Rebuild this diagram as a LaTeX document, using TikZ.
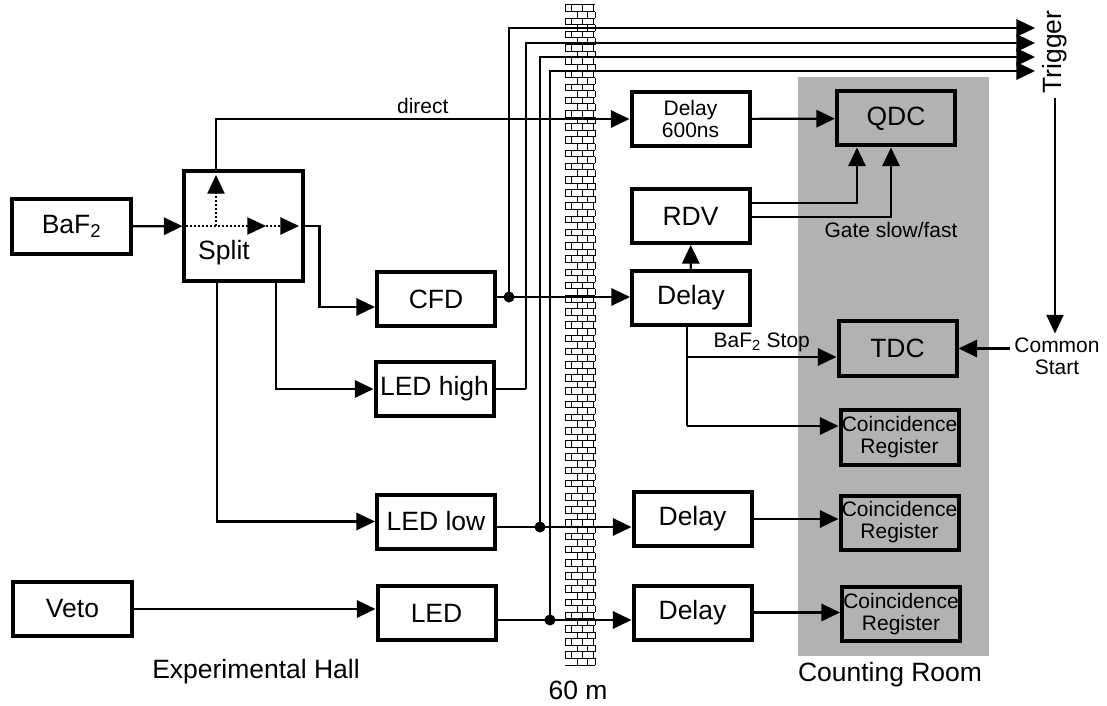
\documentclass[tikz,border=0pt]{standalone}
\usepackage{fontspec}
\setmainfont{Liberation Sans}
\usetikzlibrary{arrows.meta,calc}
\newcommand{\fntbig}{\fontsize{22.6}{26}\selectfont}
\newcommand{\fntsmall}{\fontsize{17.9}{18.8}\selectfont}

\begin{document}
\begin{tikzpicture}[x=0.03cm,y=-0.03cm,
  box/.style={rectangle,draw,line width=0.12cm,minimum width=3.54cm,minimum height=1.62cm,inner sep=0pt,font=\fntbig,align=center},
  sbox/.style={box,font=\fntsmall},
  arr/.style={-{Triangle[length=0.56cm,width=0.52cm]},line width=0.065cm},
  wire/.style={line width=0.065cm},
  thinarr/.style={-{Triangle[length=0.56cm,width=0.52cm]},line width=0.04cm},
  dotarr/.style={-{Triangle[length=0.56cm,width=0.52cm]},line width=0.04cm,dash pattern={on 0.06cm off 0.06cm}},
  brick/.style={line width=0.03cm},
  lbl/.style={font=\fntbig},
  slbl/.style={font=\fntsmall,align=center}]
  \useasboundingbox (0,0) rectangle (1107,706);
  % counting room and wall
  \fill[black!30] (798,77) rectangle (989,656);
  \fill[white] (565,5) rectangle (595,665);
  \foreach \r in {0,...,100}
    \draw[brick] (565,{5+6.6*\r}) -- (595,{5+6.6*\r});
  \foreach \r in {0,2,...,98}
    \foreach \xj in {565,571,582,593}
      \draw[brick] (\xj,{5+6.6*\r}) -- (\xj,{11.6+6.6*\r});
  \foreach \r in {1,3,...,99}
    \foreach \xj in {577,587,595}
      \draw[brick] (\xj,{5+6.6*\r}) -- (\xj,{11.6+6.6*\r});
  % modules
  \node[box](baf) at (71.5,226.5){BaF\textsubscript{2}};
  \node[box,minimum height=3.3cm](split) at (243.5,226){};
  \node[lbl](splittxt) at (224,253){Split};
  \node[box](cfd) at (436,299){CFD};
  \node[box](ledh) at (434.5,389){LED high};
  \node[box](ledl) at (436,521.5){LED low};
  \node[box](led) at (436.5,613){LED};
  \node[box](veto) at (72.5,609){Veto};
  \node[sbox](dly600) at (690.5,119){Delay\\600ns};
  \node[box](rdv) at (690.5,216){RDV};
  \node[box](dlym) at (691,298){Delay};
  \node[box](dlyl) at (692.5,519){Delay};
  \node[box](dlyv) at (692.5,612.5){Delay};
  \node[box](qdc) at (896,118.5){QDC};
  \node[box](tdc) at (897.5,348.5){TDC};
  \node[sbox](coi1) at (899.5,437.5){Coincidence\\Register};
  \node[sbox](coi2) at (899.5,522.5){Coincidence\\Register};
  \node[sbox](coi3) at (901,614){Coincidence\\Register};
  \node[lbl,rotate=90](trig) at (1055,52){Trigger};
  \node[slbl](common) at (1057,356){Common\\Start};
  \node[lbl](hall) at (256,672){Experimental Hall};
  \node[lbl](dist) at (578,690){60 m};
  \node[lbl](room) at (890,675){Counting Room};
  % junctions and trigger ends
  \coordinate(spup) at (216,175);
  \coordinate(spmid) at (266,226);
  \coordinate(spend) at (299,226);
  \coordinate(kh) at (526,389);
  \coordinate(jc) at (509,297);
  \coordinate(jl) at (540,527);
  \coordinate(jv) at (550,620);
  \coordinate(tr1) at (1035,28);
  \coordinate(tr2) at (1035,43);
  \coordinate(tr3) at (1035,57);
  \coordinate(tr4) at (1035,71);
  \coordinate(bstop) at (687,357);
  \coordinate(bcoi) at (687,426);
  % experimental hall
  \draw[arr](baf)--(split);
  \draw[dotarr](split.west)--(spmid);\draw[dotarr](spmid)--(spend);
  \draw[dotarr](split.west-|spup)--(spup);
  \draw[arr](split.north-|spup)|-(dly600.west)node[pos=0.75,above,font=\fntsmall]{direct};
  \draw[arr](split.east)--++(15,0)|-($(cfd.west)+(0,8)$);
  \draw[arr]($(split.south)+(32.5,0)$)|-(ledh.west);
  \draw[arr]($(split.south)+(-26.5,0)$)|-(ledl.west);
  \draw[arr](veto)--(veto-|led.west);
  % trigger lines
  \draw[wire](cfd.east|-jc)--(jc);\draw[arr](jc)--(jc-|dlym.west);\draw[arr](jc)|-(tr1);
  \draw[wire](ledh.east)--(kh);\draw[arr](kh)|-(tr2);
  \draw[wire](ledl.east|-jl)--(jl);\draw[arr](jl)--(jl-|dlyl.west);\draw[arr](jl)|-(tr3);
  \draw[wire](led.east|-jv)--(jv);\draw[arr](jv)--(jv-|dlyv.west);\draw[arr](jv)|-(tr4);
  \foreach \j in {jc,jl,jv}\fill(\j)circle[radius=0.165cm];
  % counting room
  \draw[arr](dly600)--(qdc);
  \draw[arr]($(rdv.east)+(0,-13)$)-|($(qdc.south)+(-39,0)$);
  \draw[arr]($(rdv.east)+(0,1)$)-|($(qdc.south)+(-5,0)$)node[pos=0.5,below,font=\fntsmall]{Gate slow/fast};
  \draw[arr](dlym)--(rdv);
  \draw[wire](dlym.south-|bstop)--(bcoi);
  \draw[arr](bstop)--(bstop-|tdc.west)node[midway,above,font=\fntsmall]{BaF\textsubscript{2} Stop};
  \draw[arr](bcoi)--(bcoi-|coi1.west);
  \draw[arr](dlyl)--(dlyl-|coi2.west);
  \draw[arr](dlyv)--(dlyv-|coi3.west);
  \draw[thinarr](trig.west)--(trig.west|-common.north);
  \draw[arr](common.west|-tdc.east)--(tdc.east);
\end{tikzpicture}
\end{document}
